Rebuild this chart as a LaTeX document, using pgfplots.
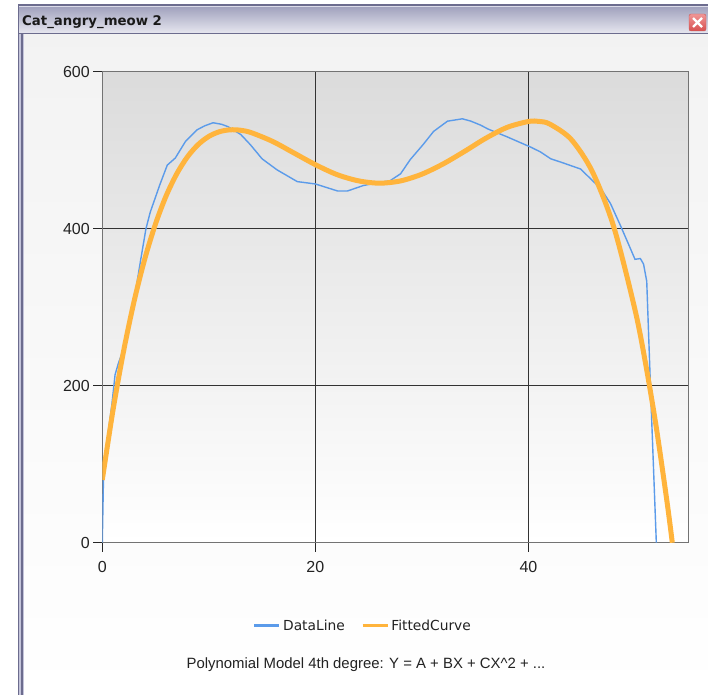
\documentclass[border=0pt]{standalone}
\usepackage{pgfplots}
\pgfplotsset{compat=1.18}
\usepackage{fontspec}
\setmainfont{Liberation Sans}
\newfontfamily\dejavu{DejaVu Sans}
\definecolor{dataline}{HTML}{5B9BEA}
\definecolor{fitted}{HTML}{FFB43C}
\definecolor{tbtop}{HTML}{9FA0BC}
\definecolor{tbbot}{HTML}{E6E6EF}
\definecolor{frdark}{HTML}{6C6C8E}
\definecolor{frlight}{HTML}{C4C4DA}
\definecolor{txt}{HTML}{222222}
\begin{document}
\begin{tikzpicture}[x=1pt,y=1pt]
\useasboundingbox (0,0) rectangle (708,695);
\fill[white] (0,0) rectangle (708,695);
% content background
\shade[top color=black!5, bottom color=white] (24,0) rectangle (708,662);
% title bar
\shade[top color=tbtop, bottom color=tbbot] (18,662) rectangle (708,689);
\fill[frdark] (18,689) rectangle (708,690.5);
\fill[frlight!60!white] (18,687.8) rectangle (708,689);
\fill[frdark] (18,661) rectangle (708,662.3);
% left border stripes
\fill[frdark] (18,0) rectangle (19.3,690.5);
\fill[frlight] (19.3,0) rectangle (21,661);
\fill[frdark] (21,0) rectangle (23,661);
\fill[frlight] (23,0) rectangle (24,661);
% title
\node[anchor=west, inner sep=0pt, font=\dejavu\bfseries\fontsize{13.3}{16}\selectfont, text=black!90] at (22,673) {Cat\_angry\_meow 2};
% close button
\shade[rounded corners=2pt, top color={rgb,255:red,240;green,150;blue,150}, bottom color={rgb,255:red,215;green,80;blue,80}, draw={rgb,255:red,200;green,90;blue,90}] (689,664) rectangle (706,681);
\draw[white, line width=2.2pt] (693,668) -- (702,677) (693,677) -- (702,668);
\begin{axis}[
  at={(96,194)}, anchor=south west,
  scale only axis, width=586pt, height=471pt,
  xmin=0, xmax=55, ymin=0, ymax=600,
  xtick={0,20,40}, ytick={0,200,400,600},
  grid=major,
  major grid style={black!80, line width=1.3pt},
  axis line style={draw=black!55, line width=1pt},
  tick align=outside, xtick pos=left, ytick pos=left,
  major tick length=9pt,
  tick style={black!85, line width=1.3pt},
  ticklabel style={font=\fontsize{16}{19}\selectfont, text=txt},
  xticklabel style={yshift=-6pt},
  /pgf/number format/assume math mode=true,
  axis background/.style={top color=black!14, bottom color=white},
  legend style={at={(0.4445,-0.176)}, anchor=center, draw=none, fill=none,
    font=\dejavu\fontsize{13.8}{16}\selectfont, text=txt,
    /tikz/every even column/.append style={column sep=14pt}},
  legend columns=2,
  legend image code/.code={\draw[#1, line width=3.5pt] (0pt,0pt) -- (25pt,0pt);},
]
\addplot[dataline, line width=1.4pt] coordinates {
(0,0) (0.12,87) (0.5,135) (0.9,176) (1.2,214) (1.5,228) (2.2,255) (3.0,310)
(3.6,360) (4.1,400) (4.5,421) (5.4,456) (6.1,481) (6.85,490) (7.8,511)
(8.9,526) (9.6,531) (10.4,535) (11.2,533) (11.8,530) (13.0,520) (13.9,507)
(15.0,489) (16.4,475) (18.3,460) (20.0,457) (21.4,451) (22.1,448) (23.0,448)
(24.5,455) (26.0,459) (27.0,461) (28.0,470) (28.9,488) (30.1,507) (31.1,524)
(32.4,537) (33.8,540) (34.6,537) (35.5,532) (36.2,527) (38.0,517) (40.2,504)
(41.1,498) (42.1,489) (43.0,485) (44.9,476) (45.8,464) (46.8,451) (47.7,432)
(48.6,405) (49.4,380) (50.0,361) (50.5,362) (50.8,355) (51.1,333) (51.5,180)
(52.0,0)
};
\addlegendentry{DataLine}
\addplot[fitted, line width=5pt, smooth] coordinates {
(0,80) (1,168.4) (2,244.1) (3,308.4) (4,362.1) (5,406.3) (6,442.1) (7,470.2)
(8,491.7) (9,507.2) (10,517.6) (11,523.6) (12,526) (13,525.4) (14,522.3)
(16,511.1) (18,496.4) (20,481.6) (22,469.1) (24,461.1) (26,458) (28,460.9)
(30,469.5) (32,482.6) (34,498.5) (36,515.3) (38,529.1) (40,536.6) (41,536.7)
(42,533.3) (44,513.9) (46,472.6) (48,402.6) (50,296.6) (51,227.6) (52,146.6)
(53,52.5) (53.5,0)
};
\addlegendentry{FittedCurve}
\end{axis}
\node[font=\fontsize{14.9}{18}\selectfont, text=txt] at (366,30) {Polynomial Model 4th degree: Y = A + BX + CX\textasciicircum 2 + ...};
\end{tikzpicture}
\end{document}
